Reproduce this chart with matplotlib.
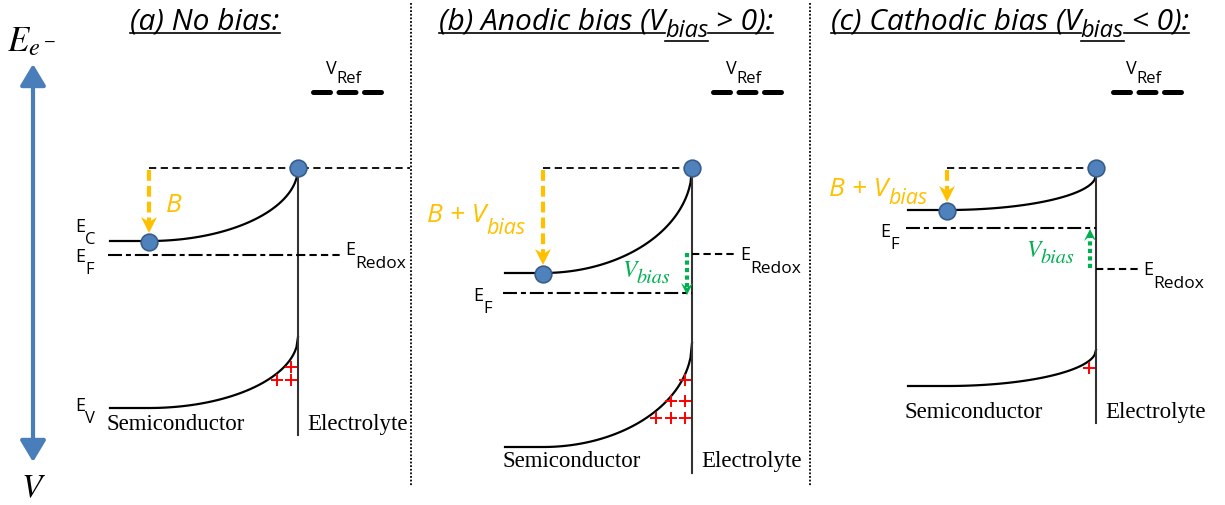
import matplotlib
matplotlib.use('Agg')
import matplotlib.pyplot as plt
import numpy as np
from matplotlib.patches import FancyArrowPatch, Polygon

# band diagram levels for the three cases (figure pixels, y grows downward)
panels = ['a', 'b', 'c']
x_left = [110, 505, 908]        # bulk end of the band lines
x_bend = [149, 543, 947]        # start of band bending
x_surf = [298, 692, 1096]       # semiconductor / electrolyte interface
ec_bulk = [241, 273, 210]
ec_surf = [168, 168, 175]
ev_bulk = [408, 447, 386]
ev_surf = [337, 343, 350]
e_fermi = [255, 293, 228]
e_redox = [255, 254, 269]
redox_end = [343, 735, 1140]
interface_bottom = [435, 473, 423]
plus_rows = [[367, 380], [380, 401, 418], [368]]
vref_x = [310, 710, 1110]
vref_y = 92
top_line_end = [410, 692, 1096]

titles = [
    [('(a) No bias:', False)],
    [('(b) Anodic bias (V', False), ('bias', True), (' > 0):', False)],
    [('(c) Cathodic bias (V', False), ('bias', True), (' < 0):', False)],
]
title_center = [205, 606, 1010]

ORANGE = '#ffc000'
GREEN = '#00b050'
BLUE = '#4f81bd'
TITLE_FONT = dict(family='Open Sans', style='italic')

fig = plt.figure(figsize=(12.25, 5.05), dpi=100)
ax = fig.add_axes([0, 0, 1, 1])
ax.set_xlim(0, 1225)
ax.set_ylim(505, 0)
ax.axis('off')
rend = fig.canvas.get_renderer()


def put(x, y, s, size, **kw):
    t = ax.text(x, y, s, fontsize=size, va='baseline', ha='left', **kw)
    return t.get_window_extent(rend).width


def measure(s, size, **kw):
    t = ax.text(0, 0, s, fontsize=size, **kw)
    w = t.get_window_extent(rend).width
    t.remove()
    return w


def label(x, y, main, sub, size=13, sub_size=12, drop=12, **kw):
    w = put(x, y, main, size, **kw)
    put(x + w, y + drop, sub, sub_size, **kw)


def head(x, ytip, d, color, L=15, W=7, notch=5):
    pts = [(x, ytip), (x - W, ytip - d * L), (x, ytip - d * (L - notch)),
           (x + W, ytip - d * L)]
    ax.add_patch(Polygon(pts, closed=True, color=color, lw=0, zorder=4))


def arrow(x, y0, y1, color, ls, lw, L=15, W=7):
    d = 1 if y1 > y0 else -1
    ax.plot([x, x], [y0, y1 - d * (L - 6)], color=color, ls=ls, lw=lw, zorder=3)
    head(x, y1, d, color, L, W)


def bend(xb, xs, yb, ys, n=100):
    t = np.linspace(0, 1, n)
    return xb + t * (xs - xb), yb + (ys - yb) * (1 - np.sqrt(1 - t ** 2))


# energy axis
ax.add_patch(FancyArrowPatch((33, 64), (33, 462), arrowstyle='<|-|>,head_length=1.0,head_width=0.6',
                             mutation_scale=13, color='#4a7ebb', lw=3, shrinkA=0, shrinkB=0))
ax.text(7, 51, r'$E_{e^-}$', fontsize=25, math_fontfamily='stix', va='baseline')
ax.text(33, 497, r'$V$', fontsize=24, math_fontfamily='stix', va='baseline', ha='center')

# panel separators
for xs in [411, 810]:
    ax.plot([xs, xs], [3, 486], color='k', ls=(0, (1, 1)), lw=1.3)

for i, p in enumerate(panels):
    # title, underlined run by run
    sizes = [17 if sub else 21.5 for _, sub in titles[i]]
    total = sum(measure(t, s, **TITLE_FONT) for (t, _), s in zip(titles[i], sizes))
    x = title_center[i] - total / 2
    for (text, is_sub), s in zip(titles[i], sizes):
        yy = 37 if is_sub else 29
        w = put(x, yy, text, s, **TITLE_FONT)
        ax.plot([x, x + w], [yy + 4, yy + 4], color='k', lw=1.2)
        x += w

    # reference level
    ax.plot([vref_x[i] + 2.5, vref_x[i] + 70.5], [vref_y, vref_y], color='k', lw=3.6,
            ls=(0, (3.4, 1.7)), dash_capstyle='round')
    label(vref_x[i] + 16, 74, 'V', 'Ref', size=13, sub_size=12, drop=9, family='Open Sans')

    # conduction band
    bx, by = bend(x_bend[i], x_surf[i], ec_bulk[i], ec_surf[i])
    ax.plot(np.r_[x_left[i], bx], np.r_[ec_bulk[i], by], color='k', lw=1.6)
    # valence band
    bx, by = bend(x_bend[i], x_surf[i], ev_bulk[i], ev_surf[i])
    ax.plot(np.r_[x_left[i], bx], np.r_[ev_bulk[i], by], color='k', lw=1.6)

    # interface
    ax.plot([x_surf[i], x_surf[i]], [168, interface_bottom[i]], color='#333333', lw=1.5)

    # Fermi and redox levels
    ax.plot([x_left[i] - 2, x_surf[i]], [e_fermi[i], e_fermi[i]], color='k', lw=1.5,
            ls=(0, (6.7, 1.9, 2.4, 1.9)))
    ax.plot([x_surf[i], redox_end[i]], [e_redox[i], e_redox[i]], color='k', lw=1.5,
            ls=(0, (3.5, 2)))

    # barrier reference line and surface/bulk electrons
    ax.plot([x_bend[i], top_line_end[i]], [168, 168], color='k', lw=1.3, ls=(0, (4, 2.5)))
    ax.plot([x_surf[i]], [168], 'o', ms=12, mfc=BLUE, mec='#385d8a', mew=1.2, zorder=5)
    ax.plot([x_bend[i]], [ec_bulk[i] + 1], 'o', ms=12, mfc=BLUE, mec='#385d8a', mew=1.2, zorder=5)
    arrow(x_bend[i], 170, ec_bulk[i] - 8, ORANGE, (0, (2.6, 1.2)), 3, L=16, W=8)

    # positive space charge
    for k, yy in enumerate(plus_rows[i]):
        xs = x_surf[i] - 7 - 14.5 * np.arange(k + 1)
        ax.plot(xs, [yy] * len(xs), '+', color='#ff0000', ms=9, mew=1.4)

    base = interface_bottom[i] - 5 if i != 1 else 467
    ax.text(x_left[i] - 3, base, 'Semiconductor', fontsize=16.5,
            family='Liberation Serif', va='baseline')
    ax.text(x_surf[i] + 9, base, 'Electrolyte', fontsize=16.5,
            family='Liberation Serif', va='baseline')

# level labels
sans = dict(family='Open Sans')
label(75, 232, 'E', 'C', **sans)
label(75, 262, 'E', 'F', **sans)
label(75, 411, 'E', 'V', **sans)
label(473, 301, 'E', 'F', **sans)
label(880, 237, 'E', 'F', **sans)
label(345, 255, 'E', 'Redox', sub_size=12.5, drop=13, **sans)
label(740, 260, 'E', 'Redox', sub_size=12.5, drop=13, **sans)
label(1143, 275, 'E', 'Redox', sub_size=12.5, drop=13, **sans)

# barrier height labels
orange = dict(color=ORANGE, **TITLE_FONT)
put(166, 212, 'B', 19, **orange)
label(427, 222, 'B + V', 'bias', size=19, sub_size=15.5, drop=12, **orange)
label(829, 196, 'B + V', 'bias', size=19, sub_size=15.5, drop=8, **orange)

# applied bias shifts of the Fermi level
arrow(687, 253, 295, GREEN, (0, (1, 0.8)), 3, L=12, W=6)
arrow(1090, 268, 229, GREEN, (0, (1, 0.8)), 3, L=12, W=6)
green = dict(family='STIXGeneral', style='italic', color=GREEN)
label(622, 277, 'V', 'bias', size=17, sub_size=14.5, drop=6, **green)
label(1026, 257, 'V', 'bias', size=17, sub_size=14.5, drop=6, **green)

fig.savefig('out.png', dpi=100)
